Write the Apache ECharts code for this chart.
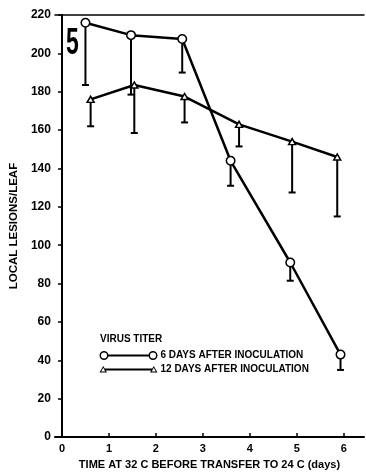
<!DOCTYPE html>
<html><head><meta charset="utf-8">
<script src="https://cdn.jsdelivr.net/npm/echarts@6/dist/echarts.min.js"></script>
<style>html,body{margin:0;padding:0;background:#fff}#c{width:366px;height:475px}</style>
</head><body><div id="c"></div>
<script>
// Data
const sixDayX = [0.50, 1.47, 2.56, 3.59, 4.86, 5.93];
const sixDayY = [216, 209.5, 207.5, 144, 91, 43];
const sixDayLow = [183.5, 178.5, 190, 131, 81.5, 35];
const twelveDayX = [0.61, 1.54, 2.61, 3.77, 4.90, 5.86];
const twelveDayY = [176, 183.5, 177.5, 163, 154, 146];
const twelveDayLow = [162, 158.5, 164, 151.5, 127.5, 115];
const xTickLabels = [0, 1, 2, 3, 4, 5, 6];
const xTickMarks = [1, 2, 3, 4, 5, 6];
const seriesNames = ['6 DAYS AFTER INOCULATION', '12 DAYS AFTER INOCULATION'];

const FF = '"Liberation Sans", Arial, sans-serif';
const pts = (xs, ys) => xs.map((x, i) => [x, ys[i]]);
const errs = (xs, ys, lo) => xs.map((x, i) => [x, ys[i], lo[i]]);

function errRender(params, api) {
  const x = api.value(0), y = api.value(1), lo = api.value(2);
  const p1 = api.coord([x, y]);
  const p2 = api.coord([x, lo]);
  return {
    type: 'group',
    children: [
      {type: 'line', shape: {x1: p1[0], y1: p1[1], x2: p2[0], y2: p2[1]}, style: {stroke: '#000', lineWidth: 2}},
      {type: 'line', shape: {x1: p2[0] - 3.5, y1: p2[1], x2: p2[0] + 3.5, y2: p2[1]}, style: {stroke: '#000', lineWidth: 2}}
    ]
  };
}

const circIcon = 'path://M0,4.5A4.5,4.5,0,1,1,9,4.5A4.5,4.5,0,1,1,0,4.5Z M1.5,4.5A3,3,0,1,0,7.5,4.5A3,3,0,1,0,1.5,4.5Z M49,4.5A4.5,4.5,0,1,1,58,4.5A4.5,4.5,0,1,1,49,4.5Z M50.5,4.5A3,3,0,1,0,56.5,4.5A3,3,0,1,0,50.5,4.5Z M8,3.5L50,3.5L50,5.5L8,5.5Z';
const triIcon = 'path://M0,6.5L3.75,0L7.5,6.5Z M1.7,5.5L5.8,5.5L3.75,1.9Z M50.5,6.5L54.25,0L58,6.5Z M52.2,5.5L56.3,5.5L54.25,1.9Z M4.9,2.6L53.1,2.6L53.1,4.6L4.9,4.6Z';

const chart = echarts.init(document.getElementById('c'), null, {renderer: 'canvas'});
chart.setOption({
  animation: false,
  backgroundColor: '#fff',
  grid: {left: 51, right: 2, top: 15, bottom: 36},
  xAxis: [{
    type: 'value', min: -0.15, max: 6.43,
    axisLine: {lineStyle: {color: '#000', width: 2}},
    axisTick: {show: true, inside: true, length: 4, lineStyle: {color: '#000', width: 1.5}, customValues: xTickMarks},
    axisLabel: {customValues: xTickLabels, color: '#000', fontFamily: FF, fontWeight: 'bold', fontSize: 11, margin: 6},
    splitLine: {show: false},
    name: 'TIME AT 32 C BEFORE TRANSFER TO 24 C (days)',
    nameLocation: 'middle', nameGap: 20,
    nameTextStyle: {color: '#000', fontFamily: FF, fontWeight: 'bold', fontSize: 11}
  }, {
    type: 'value', position: 'top', min: -0.15, max: 6.43,
    axisLine: {show: true, onZero: false, lineStyle: {color: '#000', width: 1.5}},
    axisTick: {show: false}, axisLabel: {show: false}, splitLine: {show: false}
  }],
  yAxis: {
    type: 'value', min: 0, max: 220, interval: 20,
    axisLine: {show: true, lineStyle: {color: '#000', width: 2}},
    axisTick: {show: true, length: 4, lineStyle: {color: '#000', width: 1.5}},
    axisLabel: {color: '#000', fontFamily: FF, fontWeight: 'bold', fontSize: 12, margin: 4},
    splitLine: {show: false},
    name: 'LOCAL LESIONS/LEAF', nameLocation: 'middle', nameRotate: 90, nameGap: 25,
    nameTextStyle: {color: '#000', fontFamily: FF, fontWeight: 'bold', fontSize: 11.5}
  },
  legend: {
    orient: 'vertical', left: 99.5, top: 350.5, padding: 0, itemWidth: 58, itemHeight: 9, itemGap: 3.7,
    selectedMode: false,
    textStyle: {color: '#000', fontFamily: FF, fontWeight: 'bold', fontSize: 10, padding: [0, 0, 0, -2]},
    data: [
      {name: seriesNames[0], icon: circIcon, itemStyle: {color: '#000', borderWidth: 0}},
      {name: seriesNames[1], icon: triIcon, itemStyle: {color: '#000', borderWidth: 0}}
    ]
  },
  graphic: [
    {type: 'text', left: 100, top: 334.5, style: {text: 'VIRUS TITER', font: 'bold 10px "Liberation Sans", Arial, sans-serif', fill: '#000'}},
    {type: 'text', x: 66, y: 25, scaleX: 0.62, style: {text: '5', font: 'bold 37px "Liberation Sans", Arial, sans-serif', fill: '#000'}}
  ],
  series: [
    {type: 'custom', name: 'err6', renderItem: errRender, data: errs(sixDayX, sixDayY, sixDayLow), encode: {x: 0, y: [1, 2]}, z: 1},
    {type: 'custom', name: 'err12', renderItem: errRender, data: errs(twelveDayX, twelveDayY, twelveDayLow), encode: {x: 0, y: [1, 2]}, z: 1},
    {type: 'line', name: seriesNames[0], data: pts(sixDayX, sixDayY), symbol: 'circle', symbolSize: 8.5,
     itemStyle: {color: '#fff', borderColor: '#000', borderWidth: 1.5}, lineStyle: {color: '#000', width: 2.5}, z: 3},
    {type: 'line', name: seriesNames[1], data: pts(twelveDayX, twelveDayY), symbol: 'triangle', symbolSize: [7, 6],
     itemStyle: {color: '#fff', borderColor: '#000', borderWidth: 1.5}, lineStyle: {color: '#000', width: 2.5}, z: 2}
  ]
});
</script></body></html>
